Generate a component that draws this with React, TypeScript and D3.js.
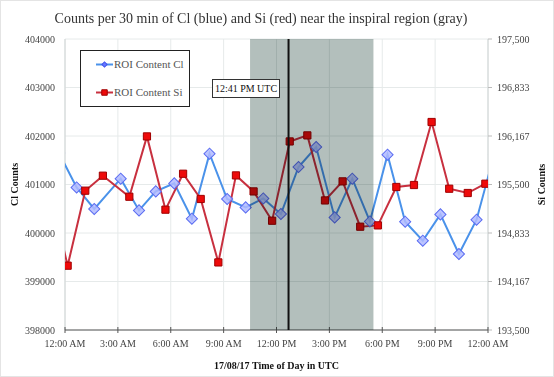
import React from "react";
import * as d3 from "d3";

// hours after 00:00 UTC on 17/08/17 (first/last points sit just outside the window)
const clHours = [-0.34, 0.66, 1.66, 3.16, 4.2, 5.15, 6.2, 7.2, 8.2, 9.2, 10.25, 11.25, 12.25, 13.25, 14.25, 15.3, 16.3, 17.3, 18.3, 19.3, 20.3, 21.3, 22.35, 23.35, 24.35];
const clCounts = [401650, 400940, 400495, 401120, 400466, 400858, 401023, 400295, 401635, 400701, 400528, 400713, 400392, 401361, 401773, 400322, 401120, 400239, 401614, 400233, 399841, 400384, 399567, 400274, 401620];

const siHours = [-0.85, 0.15, 1.15, 2.15, 3.65, 4.65, 5.7, 6.7, 7.7, 8.7, 9.7, 10.7, 11.75, 12.75, 13.75, 14.75, 15.75, 16.75, 17.75, 18.8, 19.8, 20.8, 21.8, 22.85, 23.85];
const siCounts = [195420, 194384, 195415, 195621, 195332, 196161, 195154, 195648, 195301, 194429, 195625, 195405, 195002, 196092, 196175, 195281, 195543, 194920, 194938, 195466, 195493, 196359, 195442, 195383, 195511];

const xTicks = [0, 3, 6, 9, 12, 15, 18, 21, 24];
const xTickLabels = ["12:00 AM", "3:00 AM", "6:00 AM", "9:00 AM", "12:00 PM", "3:00 PM", "6:00 PM", "9:00 PM", "12:00 AM"];
const clTicks = [398000, 399000, 400000, 401000, 402000, 403000, 404000];
const siTicks = d3.range(7).map((i) => 193500 + (i * 4000) / 6);

const inspiralStart = 10.5;
const inspiralEnd = 17.5;
const eventHour = 12 + 41 / 60;

const width = 554,
  height = 377;
const left = 65,
  right = 488,
  top = 39,
  bottom = 330;

const App = () => {
  const x = d3.scaleLinear().domain([0, 24]).range([left, right]);
  const yL = d3.scaleLinear().domain([398000, 404000]).range([bottom, top]);
  const yR = d3.scaleLinear().domain([193500, 197500]).range([bottom, top]);
  const fmt = d3.format(",.0f");

  const clLine = d3
    .line<number>()
    .x((d, i) => x(clHours[i]))
    .y((d) => yL(d));
  const siLine = d3
    .line<number>()
    .x((d, i) => x(siHours[i]))
    .y((d) => yR(d));

  const diamond = d3.symbol(d3.symbolSquare, 62)();
  const square = d3.symbol(d3.symbolSquare, 52)();

  const serif = "'Liberation Serif', 'DejaVu Serif', serif";

  return (
    <svg
      width={width}
      height={height}
      style={{ position: "absolute", left: 0, top: 0, background: "#fff" }}
      fontFamily={serif}
    >
      <defs>
        <clipPath id="plotClip">
          <rect x={left} y={top} width={right - left} height={bottom - top} />
        </clipPath>
      </defs>
      <rect x={0.5} y={0.5} width={width - 1} height={height - 1} fill="#fff" stroke="#e4e4e4" />

      <text x={261} y={23} textAnchor="middle" fontSize={14} fill="#333">
        Counts per 30 min of Cl (blue) and Si (red) near the inspiral region (gray)
      </text>

      {/* grid */}
      <g stroke="#e6eaea" strokeWidth={1}>
        {clTicks.map((t) => (
          <line key={t} x1={left} x2={right} y1={yL(t)} y2={yL(t)} />
        ))}
        {xTicks.map((t, i) => (
          <line key={i} x1={x(t)} x2={x(t)} y1={top} y2={bottom} />
        ))}
      </g>

      {/* axes */}
      <line x1={left} x2={left} y1={top} y2={bottom} stroke="#cfd4d4" />
      <line x1={right} x2={right} y1={top} y2={bottom} stroke="#cfd4d4" />
      {siTicks.map((t, i) => (
        <line key={i} x1={right} x2={right + 4} y1={yR(t)} y2={yR(t)} stroke="#bbb" />
      ))}
      <line x1={left} x2={right} y1={bottom} y2={bottom} stroke="#555" />
      {xTicks.map((t, i) => (
        <line key={i} x1={x(t)} x2={x(t)} y1={bottom - 3} y2={bottom + 3} stroke="#555" />
      ))}

      <g fontSize={10} fill="#444">
        {clTicks.map((t) => (
          <text key={t} x={left - 10} y={yL(t)} dy="0.35em" textAnchor="end">
            {t}
          </text>
        ))}
        {siTicks.map((t, i) => (
          <text key={i} x={right + 9} y={yR(t)} dy="0.35em" textAnchor="start">
            {fmt(t)}
          </text>
        ))}
        {xTicks.map((t, i) => (
          <text key={i} x={x(t)} y={347} textAnchor="middle">
            {xTickLabels[i]}
          </text>
        ))}
      </g>

      <g fontSize={10} fontWeight="bold" fill="#111" textAnchor="middle">
        <text x={(left + right) / 2} y={369}>
          17/08/17 Time of Day in UTC
        </text>
        <text transform={`translate(18,${(top + bottom) / 2}) rotate(-90)`}>Cl Counts</text>
        <text transform={`translate(545,${(top + bottom) / 2}) rotate(-90)`}>Si Counts</text>
      </g>

      {/* series */}
      <g clipPath="url(#plotClip)">
        <path d={clLine(clCounts) || ""} fill="none" stroke="#4a92ea" strokeWidth={2} />
        <path d={siLine(siCounts) || ""} fill="none" stroke="#c8303f" strokeWidth={2} />
        {clCounts.map((v, i) => (
          <path
            key={"c" + i}
            d={diamond}
            transform={`translate(${x(clHours[i])},${yL(v)}) rotate(45)`}
            fill="#b0baff"
            fillOpacity={0.85}
            stroke="#5a6cf2"
            strokeWidth={1}
          />
        ))}
        {siCounts.map((v, i) => (
          <path
            key={"s" + i}
            d={square}
            transform={`translate(${x(siHours[i])},${yR(v)})`}
            fill="#ee0a0a"
            stroke="#a00000"
            strokeWidth={1}
          />
        ))}
      </g>

      {/* inspiral region */}
      <rect
        x={x(inspiralStart)}
        y={top}
        width={x(inspiralEnd) - x(inspiralStart)}
        height={bottom - top}
        fill="#b3bfbc"
        style={{ mixBlendMode: "multiply" }}
      />
      <line x1={x(eventHour)} x2={x(eventHour)} y1={top} y2={bottom} stroke="#111" strokeWidth={2} />

      {/* annotation */}
      <rect x={212.5} y={79.5} width={67} height={18} fill="#fff" stroke="#333" />
      <text x={246} y={92} textAnchor="middle" fontSize={10} fill="#111">
        12:41 PM UTC
      </text>

      {/* legend */}
      <g>
        <rect x={80.5} y={50.5} width={109} height={56} fill="#fff" stroke="#222" />
        <line x1={96} x2={113} y1={64.5} y2={64.5} stroke="#4a92ea" strokeWidth={2} />
        <path d={d3.symbol(d3.symbolSquare, 14)()} transform="translate(104.5,64.5) rotate(45)" fill="#6677ff" stroke="#4455ee" />
        <text x={114} y={64.5} dy="0.35em" fontSize={11} fill="#555">
          ROI Content Cl
        </text>
        <line x1={96} x2={113} y1={92.5} y2={92.5} stroke="#c8303f" strokeWidth={2} />
        <path d={d3.symbol(d3.symbolSquare, 30)()} transform="translate(104.5,92.5)" fill="#ee0a0a" stroke="#a00000" />
        <text x={114} y={92.5} dy="0.35em" fontSize={11} fill="#555">
          ROI Content Si
        </text>
      </g>
    </svg>
  );
};

export default App;
